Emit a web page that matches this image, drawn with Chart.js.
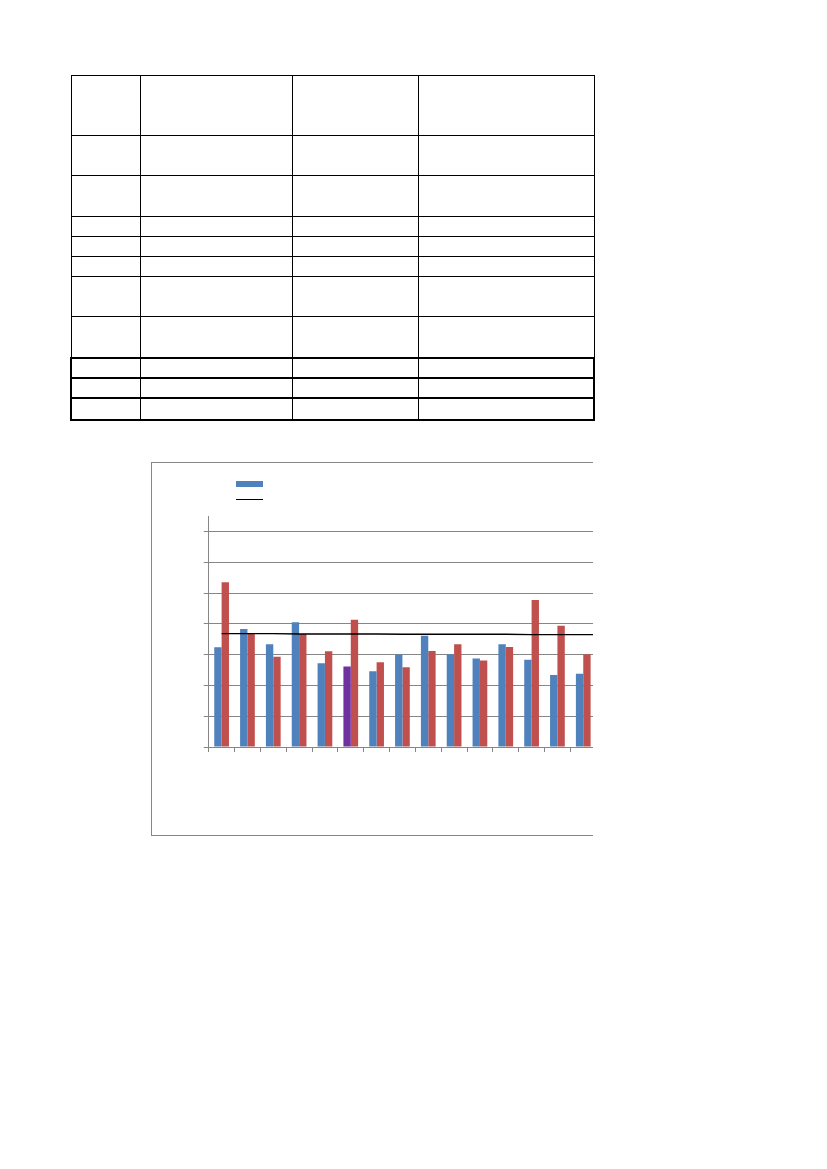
<!DOCTYPE html>
<html>
<head>
<meta charset="utf-8">
<script src="https://cdn.jsdelivr.net/npm/chart.js@4/dist/chart.umd.min.js"></script>
<style>
  body { margin: 0; background: #fff; width: 827px; height: 1169px; position: relative; font-family: "Liberation Sans", Arial, sans-serif; }
  #tbl { position: absolute; left: 70px; top: 75px; border-collapse: collapse; }
  #tbl td { border: 1.2px solid #000; padding: 0; }
  #tbl tr.thick td:first-child { border-left-width: 2.5px; }
  #tbl tr.thick td { border-top-width: 2px; border-bottom-width: 2px; }
  #tbl tr.thick td:last-child { border-right-width: 2px; }
  #frame { position: absolute; left: 151px; top: 462px; width: 442px; height: 374px; box-sizing: border-box;
           border-left: 1px solid #868686; border-top: 1px solid #868686; border-bottom: 1px solid #868686; overflow: hidden; }
  #chart { position: absolute; left: 0; top: 0; }
  .swatch { position: absolute; left: 84px; top: 18px; width: 27px; height: 6px; background: #4F81BD; }
  .lineKey { position: absolute; left: 84px; top: 36px; width: 27px; height: 0; border-top: 1.5px solid #000; }
</style>
</head>
<body>
<table id="tbl">
  <tr style="height:60px"><td style="width:68px"></td><td style="width:151px"></td><td style="width:125px"></td><td style="width:175px"></td></tr>
  <tr style="height:40px"><td></td><td></td><td></td><td></td></tr>
  <tr style="height:41px"><td></td><td></td><td></td><td></td></tr>
  <tr style="height:20px"><td></td><td></td><td></td><td></td></tr>
  <tr style="height:20px"><td></td><td></td><td></td><td></td></tr>
  <tr style="height:20px"><td></td><td></td><td></td><td></td></tr>
  <tr style="height:40px"><td></td><td></td><td></td><td></td></tr>
  <tr style="height:41px"><td></td><td></td><td></td><td></td></tr>
  <tr class="thick" style="height:20px"><td></td><td></td><td></td><td></td></tr>
  <tr class="thick" style="height:20px"><td></td><td></td><td></td><td></td></tr>
  <tr class="thick" style="height:22px"><td></td><td></td><td></td><td></td></tr>
</table>

<div id="frame">
  <canvas id="chart" width="480" height="372"></canvas>
  <div class="swatch"></div>
  <div class="lineKey"></div>
</div>

<script>
// categories (labels are blank in the source picture)
const categories = ['', '', '', '', '', '', '', '', '', '', '', '', '', '', '', ''];

// series values
const blueValues = [3.24, 3.83, 3.34, 4.05, 2.72, 2.61, 2.46, 3.00, 3.61, 3.01, 2.87, 3.34, 2.83, 2.34, 2.38, null];
const redValues  = [5.35, 3.68, 2.93, 3.67, 3.11, 4.13, 2.75, 2.59, 3.12, 3.34, 2.81, 3.25, 4.77, 3.94, 3.01, null];
const lineValues = [3.68, 3.68, 3.68, 3.67, 3.67, 3.67, 3.67, 3.66, 3.66, 3.66, 3.66, 3.66, 3.65, 3.65, 3.65, 3.65];

// y tick values
const yTicks = [0, 1, 2, 3, 4, 5, 6, 7];

const BLUE = '#4F81BD';
const RED = '#C0504D';
const PURPLE = '#7030A0';
const GRID = '#868686';

const blueColors = blueValues.map((v, i) => i === 5 ? PURPLE : BLUE);

const ctx = document.getElementById('chart').getContext('2d');
new Chart(ctx, {
    type: 'bar',
    data: {
        labels: categories,
        datasets: [
            {
                type: 'line',
                data: lineValues,
                borderColor: '#000',
                borderWidth: 1.4,
                pointRadius: 0,
                tension: 0,
                order: 0,
            },
            {
                data: blueValues,
                backgroundColor: blueColors,
                categoryPercentage: 0.57,
                barPercentage: 1.0,
                order: 1,
            },
            {
                data: redValues,
                backgroundColor: RED,
                categoryPercentage: 0.57,
                barPercentage: 1.0,
                order: 1,
            }
        ]
    },
    options: {
        responsive: false,
        animation: false,
        devicePixelRatio: 1,
        layout: {
            padding: { left: 51.7, top: 53, right: 10, bottom: 83 }
        },
        plugins: {
            legend: { display: false },
            tooltip: { enabled: false },
        },
        scales: {
            x: {
                grid: {
                    offset: true,
                    drawOnChartArea: false,
                    color: GRID,
                    tickLength: 5,
                },
                border: { color: GRID, width: 1 },
                ticks: { display: false },
                afterFit: (scale) => { scale.height = 5; },
            },
            y: {
                min: 0,
                max: 7.5,
                ticks: { display: false, stepSize: 1 },
                afterBuildTicks: (scale) => {
                    scale.ticks = yTicks.map(v => ({ value: v }));
                },
                grid: { color: GRID, tickLength: 5 },
                border: { color: GRID, width: 1 },
                afterFit: (scale) => { scale.width = 5; },
            }
        }
    }
});
</script>
</body>
</html>
